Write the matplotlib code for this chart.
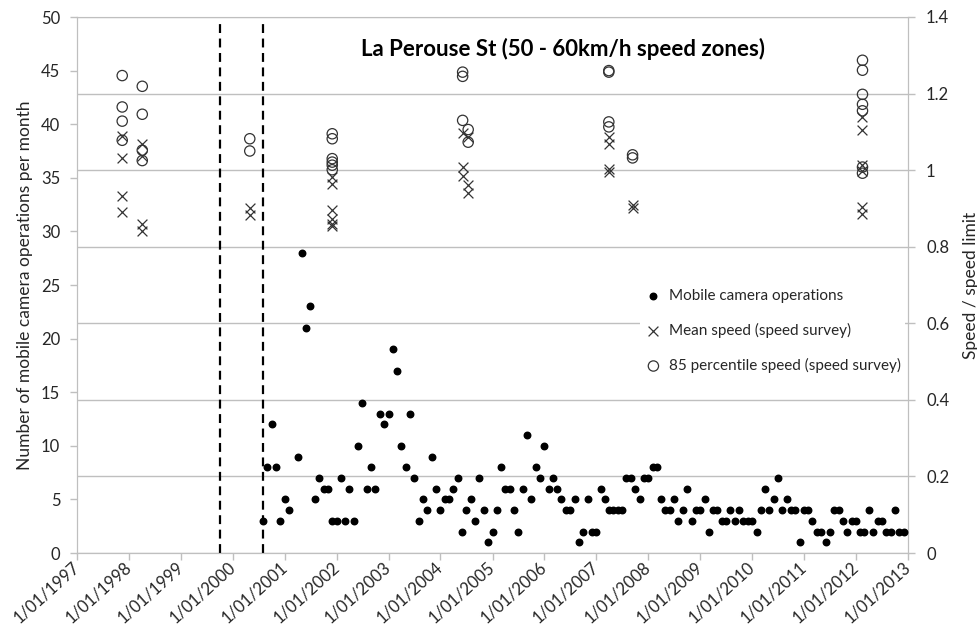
import matplotlib
matplotlib.use('Agg')
import matplotlib.pyplot as plt
import matplotlib.dates as mdates
from matplotlib.ticker import FuncFormatter, MultipleLocator
import pandas as pd
import numpy as np

plt.rcParams['font.family'] = ['Lato', 'DejaVu Sans']

# mobile camera operations per month, Aug 2000 - Dec 2012 (None = no value)
months = pd.date_range('2000-08-01', '2012-12-01', freq='MS')
ops = [3, 8, 12, 8, 3, 5, 4, None, 9, 28, 21, 23,
       5, 7, 6, 6, 3, 3, 7, 3, 6, 3, 10, 14,
       6, 8, 6, 13, 12, 13, 19, 17, 10, 8, 13, 7,
       3, 5, 4, 9, 6, 4, 5, 5, 6, 7, 2, 4,
       5, 3, 7, 4, 1, 2, 4, 8, 6, 6, 4, 2,
       6, 11, 5, 8, 7, 10, 6, 7, 6, 5, 4, 4,
       5, 1, 2, 5, 2, 2, 6, 5, 4, 4, 4, 4,
       7, 7, 6, 5, 7, 7, 8, 8, 5, 4, 4, 5,
       3, 4, 6, 3, 4, 4, 5, 2, 4, 4, 3, 3,
       4, 3, 4, 3, 3, 3, 2, 4, 6, 4, 5, 7,
       4, 5, 4, 4, 1, 4, 4, 3, 2, 2, 1, 2,
       4, 4, 3, 2, 3, 3, 2, 2, 4, 2, 3, 3,
       2, 2, 4, 2, 2]

# speed surveys (speed / speed limit)
mean_dates = (['1997-11-15'] * 4 + ['1998-04-05'] * 4 + ['2000-04-30'] * 2 +
              ['2001-12-01'] * 6 + ['2004-06-05'] * 3 + ['2004-07-14'] * 3 +
              ['2007-03-30'] * 4 + ['2007-09-13'] * 2 + ['2012-02-16'] * 6)
mean_speed = [1.088, 1.033, 0.932, 0.891,
              1.068, 1.038, 0.860, 0.840,
              0.900, 0.882,
              0.982, 0.965, 0.895, 0.873, 0.860, 0.853,
              1.097, 1.007, 0.986,
              1.086, 0.960, 0.940,
              1.086, 1.069, 1.004, 0.995,
              0.908, 0.900,
              1.140, 1.104, 1.013, 0.999, 0.903, 0.885]

p85_dates = (['1997-11-15'] * 4 + ['1998-04-05'] * 4 + ['2000-04-30'] * 2 +
             ['2001-12-01'] * 6 + ['2004-06-05'] * 3 + ['2004-07-14'] * 2 +
             ['2007-03-30'] * 4 + ['2007-09-13'] * 2 + ['2012-02-16'] * 7)
p85_speed = [1.247, 1.165, 1.128, 1.078,
             1.219, 1.146, 1.052, 1.025,
             1.082, 1.050,
             1.095, 1.082, 1.030, 1.021, 1.013, 1.001,
             1.256, 1.245, 1.130,
             1.106, 1.073,
             1.260, 1.256, 1.126, 1.113,
             1.040, 1.032,
             1.287, 1.261, 1.198, 1.172, 1.155, 1.008, 0.992]

# dashed reference lines
event_dates = ['1999-10-01', '2000-08-01']

grey = '#bfbfbf'
txt = '#262626'

fig = plt.figure(figsize=(9.78, 6.34), dpi=100)
ax = fig.add_axes([77/978, 81/634, 831/978, 536/634])
ax2 = ax.twinx()
ax.set_zorder(ax2.get_zorder() + 1)
ax.patch.set_visible(False)

ops_arr = np.array([np.nan if v is None else v for v in ops], dtype=float)
h1 = ax.scatter(months, ops_arr, s=22, color='black', zorder=3,
                label='Mobile camera operations')
h2 = ax2.scatter(pd.to_datetime(mean_dates), mean_speed, marker='x', s=50,
                 color='#333333', linewidths=0.9,
                 label='Mean speed (speed survey)')
h3 = ax2.scatter(pd.to_datetime(p85_dates), p85_speed, marker='o', s=55,
                 facecolors='none', edgecolors='#333333', linewidths=0.9,
                 label='85 percentile speed (speed survey)')

for d in event_dates:
    ax.axvline(pd.Timestamp(d), ymin=0, ymax=0.988, color='black', lw=1.6,
               ls=(0, (4, 2.5)), zorder=2)

ax.set_xlim(pd.Timestamp('1997-01-01'), pd.Timestamp('2013-01-01'))
ax.set_ylim(0, 50)
ax2.set_ylim(0, 1.4)
ax.yaxis.set_major_locator(MultipleLocator(5))
ax2.yaxis.set_major_locator(MultipleLocator(0.2))
ax2.yaxis.set_major_formatter(FuncFormatter(lambda v, p: f'{v:g}'))
ax.xaxis.set_major_locator(mdates.YearLocator())
ax.xaxis.set_major_formatter(FuncFormatter(
    lambda v, p: mdates.num2date(v).strftime('%d/%m/%Y').lstrip('0')))

ax2.yaxis.grid(True, color=grey, lw=1)
ax2.set_axisbelow(True)

for a in (ax, ax2):
    for s in a.spines.values():
        s.set_color(grey)
    a.tick_params(colors=grey, labelcolor=txt, labelsize=12, length=5, width=1)
ax.tick_params(axis='y', pad=7)
ax2.tick_params(axis='y', pad=8)
ax.spines['top'].set_visible(False)

for lab in ax.get_xticklabels():
    lab.set_rotation(42)
    lab.set_ha('right')
    lab.set_va('center')
    lab.set_rotation_mode('anchor')

ax.set_ylabel('Number of mobile camera operations per month', fontsize=12.5,
              color=txt, labelpad=6)
ax2.set_ylabel('Speed / speed limit', fontsize=12.5, color=txt, labelpad=10)

ax.text(0.585, 0.94, 'La Perouse St (50 - 60km/h speed zones)',
        transform=ax.transAxes, ha='center', va='center', fontsize=16,
        fontweight='bold', color='black')

leg = ax.legend(handles=[h1, h2, h3], loc='center left',
                bbox_to_anchor=(0.678, 0.414), frameon=True, fontsize=11,
                labelspacing=1.3, handletextpad=0.45, borderpad=0.3,
                handlelength=1.1, borderaxespad=0)
leg.get_frame().set_facecolor('white')
leg.get_frame().set_edgecolor('none')
leg.get_frame().set_alpha(1)
for t in leg.get_texts():
    t.set_color(txt)

fig.savefig('out.png', dpi=100)
